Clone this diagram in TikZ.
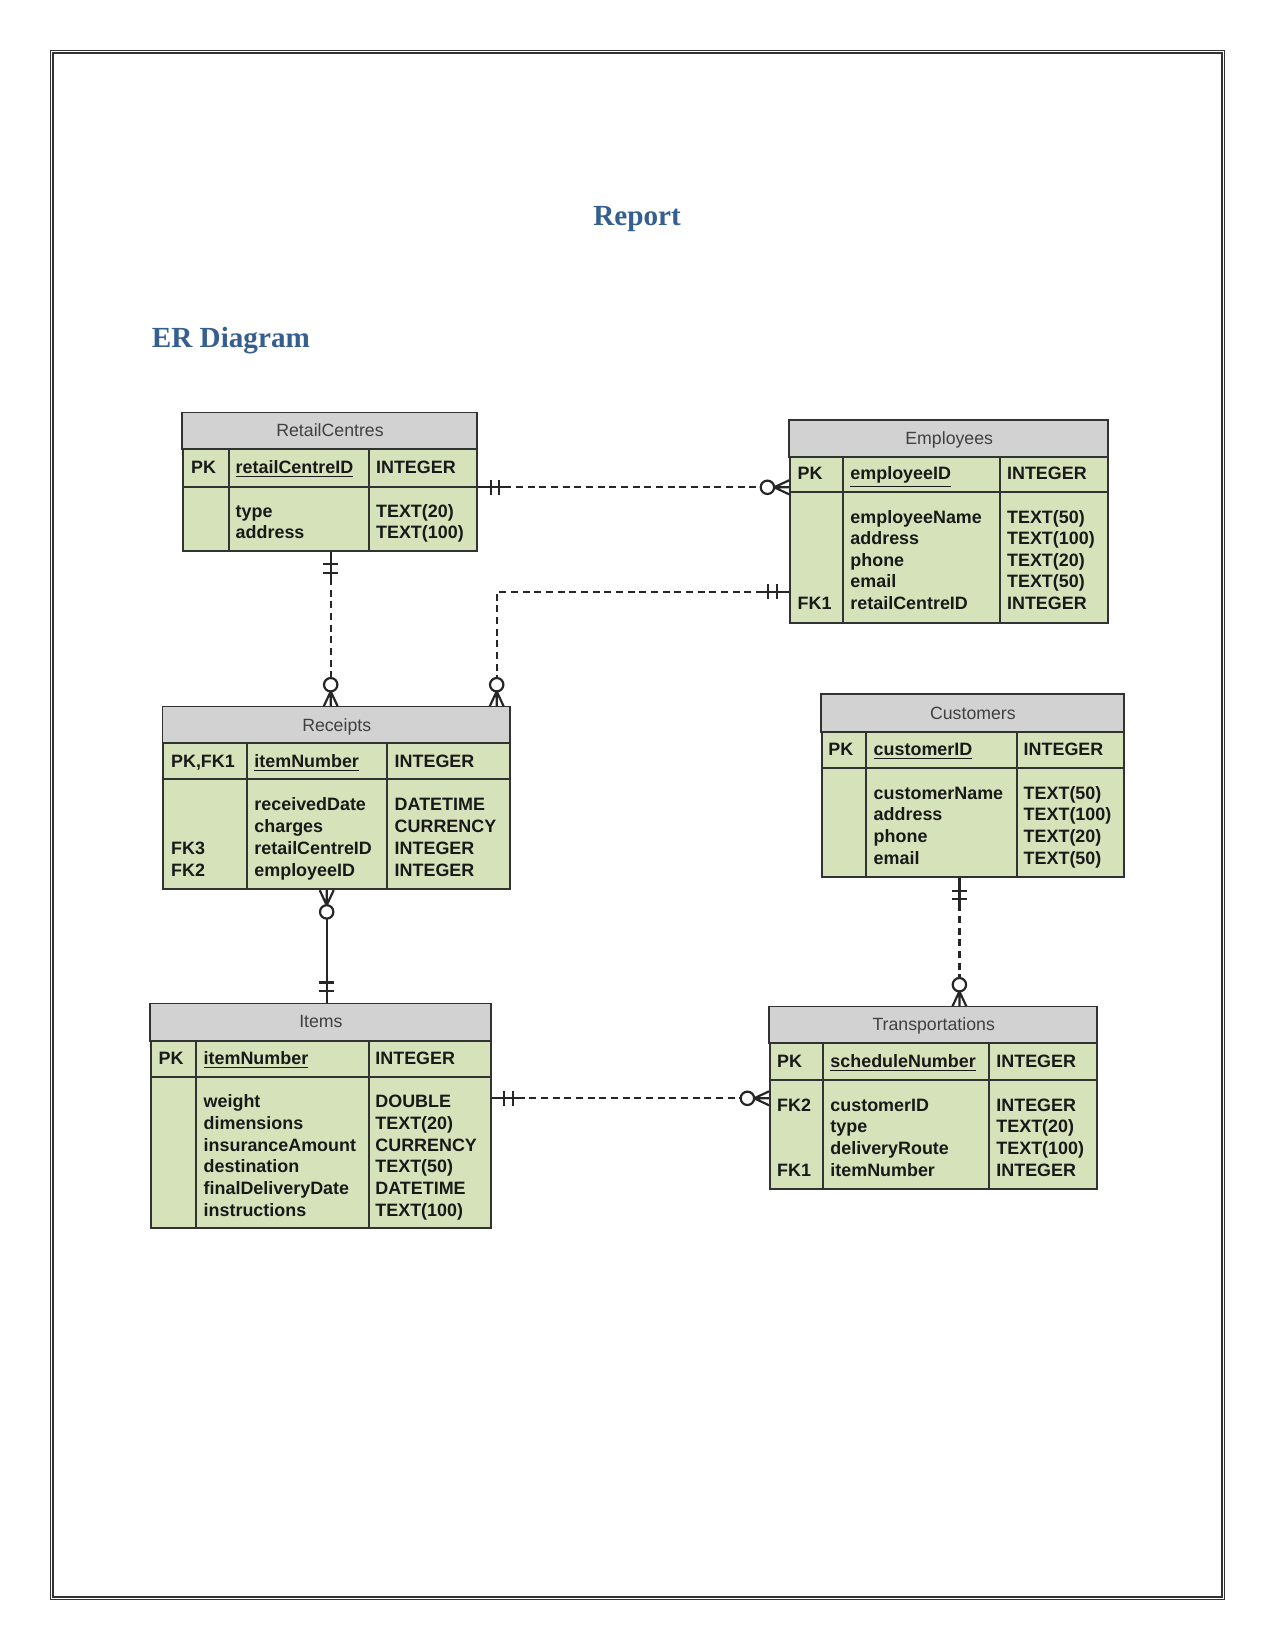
\documentclass[tikz,border=0pt]{standalone}
\usepackage{fontspec}
\setmainfont{Liberation Serif}
\setsansfont{Liberation Sans}
\usetikzlibrary{fit,calc}
\definecolor{headblue}{RGB}{54,95,145}
\definecolor{ergreen}{RGB}{214,227,186}
\definecolor{ergray}{RGB}{210,210,210}
\definecolor{erline}{RGB}{50,50,50}
\definecolor{ertext}{RGB}{25,25,25}
\tikzset{
  tblbox/.style={draw=erline, line width=0.85pt, fill=ergreen, inner sep=0pt},
  hdrbox/.style={draw=erline, line width=0.85pt, fill=ergray},
  gridline/.style={draw=erline, line width=0.85pt},
  ttitle/.style={font=\sffamily\fontsize{8.5}{10}\selectfont, text=black!75, anchor=base, inner sep=0pt},
  tfield/.style={font=\sffamily\bfseries\fontsize{8.6}{10}\selectfont, text=ertext, anchor=base west, inner sep=0pt},
  conn/.style={line width=1.05pt, draw=black!85},
  dashconn/.style={conn, dash pattern=on 3.4pt off 2.2pt},
  heading/.style={font=\rmfamily\bfseries\fontsize{14}{16}\selectfont, text=headblue, inner sep=0pt}
}
% table frame: name, x1, y1, x2, y2, header bottom, pk bottom, divider1, divider2
\newcommand{\erframe}[9]{%
  \coordinate (#1-nw) at (#2,#3);
  \coordinate (#1-se) at (#4,#5);
  \node[tblbox, fit=(#1-nw)(#1-se)] (#1) {};
  \draw[hdrbox] (#1.north west) rectangle (#4,#6);
  \draw[gridline] (#2,#7) -- (#4,#7);
  \draw[gridline] (#8,#6) -- (#8,#5);
  \draw[gridline] (#9,#6) -- (#9,#5);
}
% rows: prefix, x name, x type, y0, step, list
\newcommand{\errows}[6]{%
  \foreach \n/\t [count=\i from 0] in {#6} {
    \node[tfield] (#1-n\i) at (#2,{#4+\i*#5}) {\n};
    \node[tfield] (#1-t\i) at (#3,{#4+\i*#5}) {\t};
  }}
% one-and-only-one mark
\newcommand{\ermone}[2]{%
  \begin{scope}[shift={(#1)}, rotate=#2]
    \draw[conn] (0,0) -- (26,0);
    \draw[conn] (12.5,-7.5) -- (12.5,7.5) (21,-7.5) -- (21,7.5);
  \end{scope}}
% zero-or-many mark
\newcommand{\ermmany}[2]{%
  \begin{scope}[shift={(#1)}, rotate=#2]
    \draw[conn] (15,0) -- (0,7) (15,0) -- (0,-7) (15,0) -- (0,0);
    \draw[conn] (21.7,0) circle[radius=6.7];
  \end{scope}}
\begin{document}
\begin{tikzpicture}[x=0.48pt, y=-0.48pt]
\useasboundingbox (0,0) rectangle (1275,1650);
\fill[white] (0,0) rectangle (1275,1650);
% page border
\draw[line width=0.55pt, black!80] (50.8,50.8) rectangle (1224.2,1599.2);
\draw[line width=0.55pt, black!80] (53.0,53.0) rectangle (1222.0,1597.0);
% headings
\node[heading, anchor=base] (title) at (637,226) {Report};
\node[heading, anchor=base west] (erhead) at (151.5,347.7) {ER Diagram};

% RetailCentres
\erframe{rc}{182.7}{413.3}{477.3}{551}{449.3}{487.3}{228.7}{369}
\node[ttitle] (rc-title) at (330,437) {RetailCentres};
\node[tfield] (rc-pk) at (190.7,473.3) {PK};
\node[tfield] (rc-pkn) at (235.3,473.3) {\underline{retailCentreID}};
\node[tfield] (rc-pkt) at (375.7,473.3) {INTEGER};
\errows{rc}{235.3}{375.7}{517.7}{20.7}{type/TEXT(20), address/TEXT(100)}

% Employees
\erframe{emp}{790}{420.7}{1108.3}{623.3}{456.7}{492.3}{843.3}{1000}
\node[ttitle] (emp-title) at (949.2,444.3) {Employees};
\node[tfield] (emp-pk) at (797.3,479.3) {PK};
\node[tfield] (emp-pkn) at (850,479.3) {\underline{employeeID}};
\node[tfield] (emp-pkt) at (1006.7,479.3) {INTEGER};
\errows{emp}{850}{1006.7}{523.3}{21.5}{employeeName/TEXT(50), address/TEXT(100), phone/TEXT(20), email/TEXT(50), retailCentreID/INTEGER}
\node[tfield] (emp-fk1) at (797.3,609.3) {FK1};

% Receipts
\erframe{rec}{163.3}{707.3}{510}{889.3}{743.3}{779.3}{246.7}{387.3}
\node[ttitle] (rec-title) at (336.7,731) {Receipts};
\node[tfield] (rec-pk) at (170.7,767) {PK,FK1};
\node[tfield] (rec-pkn) at (254,767) {\underline{itemNumber}};
\node[tfield] (rec-pkt) at (394.3,767) {INTEGER};
\errows{rec}{254}{394.3}{810.3}{21.9}{receivedDate/DATETIME, charges/CURRENCY, retailCentreID/INTEGER, employeeID/INTEGER}
\node[tfield] (rec-fk3) at (170.7,854.1) {FK3};
\node[tfield] (rec-fk2) at (170.7,876) {FK2};

% Customers
\erframe{cust}{821.7}{695}{1124}{877.3}{731.7}{768.3}{866}{1016.7}
\node[ttitle] (cust-title) at (972.9,719.3) {Customers};
\node[tfield] (cust-pk) at (828,755.3) {PK};
\node[tfield] (cust-pkn) at (873.3,755.3) {\underline{customerID}};
\node[tfield] (cust-pkt) at (1023.3,755.3) {INTEGER};
\errows{cust}{873.3}{1023.3}{799.3}{21.67}{customerName/TEXT(50), address/TEXT(100), phone/TEXT(20), email/TEXT(50)}

% Items
\erframe{items}{151}{1004.3}{490.7}{1228.3}{1041}{1076.7}{196}{368.7}
\node[ttitle] (items-title) at (320.9,1027.7) {Items};
\node[tfield] (items-pk) at (158.3,1064.3) {PK};
\node[tfield] (items-pkn) at (203.3,1064.3) {\underline{itemNumber}};
\node[tfield] (items-pkt) at (375,1064.3) {INTEGER};
\errows{items}{203.3}{375}{1107.7}{21.67}{weight/DOUBLE, dimensions/TEXT(20), insuranceAmount/CURRENCY, destination/TEXT(50), finalDeliveryDate/DATETIME, instructions/TEXT(100)}

% Transportations
\erframe{tr}{770}{1007.3}{1097.3}{1189.3}{1043.3}{1080}{822.7}{989.3}
\node[ttitle] (tr-title) at (933.7,1030.3) {Transportations};
\node[tfield] (tr-pk) at (776.7,1067.7) {PK};
\node[tfield] (tr-pkn) at (830,1067.7) {\underline{scheduleNumber}};
\node[tfield] (tr-pkt) at (996,1067.7) {INTEGER};
\errows{tr}{830}{996}{1111}{21.67}{customerID/INTEGER, type/TEXT(20), deliveryRoute/TEXT(100), itemNumber/INTEGER}
\node[tfield] (tr-fk2) at (776.7,1111) {FK2};
\node[tfield] (tr-fk1) at (776.7,1176) {FK1};

% connectors
% RetailCentres -- Employees
\coordinate (c1a) at (rc.east |- 0,487.3);
\coordinate (c1b) at (emp.west |- 0,487.3);
\draw[dashconn] ($(c1a)+(26,0)$) -- ($(c1b)-(28.4,0)$);
\ermone{c1a}{0}
\ermmany{c1b}{180}
% RetailCentres -- Receipts
\coordinate (c2a) at (330.7,0 |- rc.south);
\coordinate (c2b) at (330.7,0 |- rec.north);
\draw[dashconn] ($(c2a)+(0,26)$) -- ($(c2b)-(0,28.4)$);
\ermone{c2a}{-90}
\ermmany{c2b}{90}
% Employees -- Receipts
\coordinate (c3a) at (emp.west |- 0,591.7);
\coordinate (c3b) at (496.7,0 |- rec.north);
\draw[dashconn] ($(c3a)-(26,0)$) -- (c3b |- c3a) -- ($(c3b)-(0,28.4)$);
\ermone{c3a}{180}
\ermmany{c3b}{90}
% Receipts -- Items
\coordinate (c4a) at (326.7,0 |- rec.south);
\coordinate (c4b) at (326.7,0 |- items.north);
\draw[conn] ($(c4a)+(0,28.4)$) -- ($(c4b)-(0,26)$);
\ermmany{c4a}{-90}
\ermone{c4b}{90}
% Customers -- Transportations
\coordinate (c5a) at (959.4,0 |- cust.south);
\coordinate (c5b) at (959.4,0 |- tr.north);
\draw[dashconn] ($(c5a)+(0,26)$) -- ($(c5b)-(0,28.4)$);
\ermone{c5a}{-90}
\ermmany{c5b}{90}
% Items -- Transportations
\coordinate (c6a) at (items.east |- 0,1098.3);
\coordinate (c6b) at (tr.west |- 0,1098.3);
\draw[dashconn] ($(c6a)+(26,0)$) -- ($(c6b)-(28.4,0)$);
\ermone{c6a}{0}
\ermmany{c6b}{180}
\end{tikzpicture}
\end{document}
